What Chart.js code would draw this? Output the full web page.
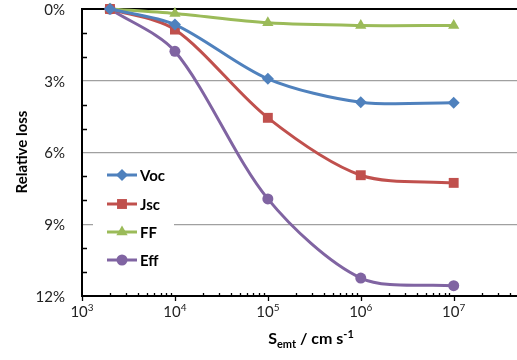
<!DOCTYPE html>
<html lang="en">
<head>
<meta charset="UTF-8">
<title>Relative loss vs S_emt</title>
<script src="https://cdn.jsdelivr.net/npm/chart.js@4.4.1/dist/chart.umd.min.js"></script>
<style>
    html, body { margin: 0; padding: 0; background: #fff; }
    #wrap { width: 517px; height: 360px; position: relative; }
</style>
</head>
<body>
<div id="wrap"><canvas id="chart"></canvas></div>
<script>
    // values (x in cm/s, y in % relative loss)
    var sEmt = [2e3, 1e4, 1e5, 1e6, 1e7];
    var voc = [0, 0.65, 2.92, 3.9, 3.92];
    var jsc = [0, 0.86, 4.55, 6.95, 7.27];
    var ff  = [0, 0.19, 0.58, 0.69, 0.69];
    var eff = [0, 1.77, 7.94, 11.25, 11.57];
    var seriesNames = ['Voc', 'Jsc', 'FF', 'Eff'];
    var xDecades = [1e3, 1e4, 1e5, 1e6, 1e7];
    var xExponents = ['3', '4', '5', '6', '7'];
    var yTicks = [0, 3, 6, 9, 12];

    var FONT = 'Lato, "Liberation Sans", sans-serif';
    var colors = ['#4f81bd', '#c0504d', '#9bbb59', '#8064a2'];
    var shapes = ['rectRot', 'rect', 'triangle', 'circle'];
    var radii = [6, 7, 6.5, 5.5];

    function toPoints(vals) {
        return vals.map(function (v, i) { return { x: sEmt[i], y: v }; });
    }

    var datasets = [voc, jsc, ff, eff].map(function (vals, i) {
        return {
            label: seriesNames[i],
            data: toPoints(vals),
            borderColor: colors[i],
            backgroundColor: colors[i],
            borderWidth: 3,
            pointStyle: shapes[i],
            pointRadius: radii[i],
            pointBorderWidth: 0,
            tension: 0.3,
            clip: false
        };
    });

    // axes lines, ticks, tick labels and titles
    var axisDeco = {
        id: 'axisDeco',
        beforeDatasetsDraw: function (chart) {
            var ctx = chart.ctx, a = chart.chartArea;
            var xs = chart.scales.x, ys = chart.scales.y;
            ctx.save();
            ctx.strokeStyle = '#000';
            ctx.lineWidth = 2;
            ctx.beginPath();
            ctx.moveTo(a.left, a.top); ctx.lineTo(a.right, a.top);
            ctx.moveTo(a.left, a.bottom); ctx.lineTo(a.right, a.bottom);
            ctx.moveTo(a.left, a.top - 1); ctx.lineTo(a.left, a.bottom + 1);
            ctx.stroke();

            // y minor ticks
            ctx.lineWidth = 1.3;
            ctx.beginPath();
            for (var v = 1; v < 12; v++) {
                if (v % 3 === 0) continue;
                var py = Math.round(ys.getPixelForValue(v)) + 0.5;
                ctx.moveTo(a.left, py); ctx.lineTo(a.left + 5, py);
            }
            // x ticks: majors go down, minors go up
            for (var d = 0; d < xDecades.length + 1; d++) {
                var base = 1e3 * Math.pow(10, d);
                for (var m = 1; m <= 9; m++) {
                    var val = base * m;
                    if (val > xs.max) break;
                    var px = Math.round(xs.getPixelForValue(val)) + 0.5;
                    if (m === 1) { ctx.moveTo(px, a.bottom); ctx.lineTo(px, a.bottom + 5); }
                    else { ctx.moveTo(px, a.bottom); ctx.lineTo(px, a.bottom - 3); }
                }
            }
            ctx.stroke();
            ctx.restore();
        },
        afterDraw: function (chart) {
            var ctx = chart.ctx, a = chart.chartArea;
            var xs = chart.scales.x, ys = chart.scales.y;
            ctx.save();
            ctx.fillStyle = '#222';

            // y tick labels
            ctx.font = '15px ' + FONT;
            ctx.textAlign = 'right';
            ctx.textBaseline = 'middle';
            yTicks.forEach(function (v) {
                ctx.fillText(v + '%', a.left - 17, ys.getPixelForValue(v) + 1);
            });

            // x tick labels 10^n
            ctx.textBaseline = 'alphabetic';
            xDecades.forEach(function (val, i) {
                var px = xs.getPixelForValue(val);
                ctx.font = '15px ' + FONT;
                var w1 = ctx.measureText('10').width;
                ctx.font = '10px ' + FONT;
                var w2 = ctx.measureText(xExponents[i]).width;
                var x0 = px - (w1 + w2) / 2;
                ctx.font = '15px ' + FONT;
                ctx.textAlign = 'left';
                ctx.fillText('10', x0, 317);
                ctx.font = '10px ' + FONT;
                ctx.fillText(xExponents[i], x0 + w1, 311);
            });

            // x title: S_emt / cm s^-1
            var parts = [
                { t: 'S', f: 'bold 16px ', dy: 0 },
                { t: 'emt', f: 'bold 11px ', dy: 4 },
                { t: ' / cm s', f: 'bold 16px ', dy: 0 },
                { t: '-1', f: 'bold 11px ', dy: -6 }
            ];
            var total = 0;
            parts.forEach(function (p) { ctx.font = p.f + FONT; p.w = ctx.measureText(p.t).width; total += p.w; });
            var tx = 311 - total / 2;
            ctx.fillStyle = '#000';
            parts.forEach(function (p) {
                ctx.font = p.f + FONT;
                ctx.fillText(p.t, tx, 344 + p.dy);
                tx += p.w;
            });

            // y title
            ctx.save();
            ctx.translate(27, 152);
            ctx.rotate(-Math.PI / 2);
            ctx.textAlign = 'center';
            ctx.font = 'bold 15px ' + FONT;
            ctx.fillText('Relative loss', 0, 0);
            ctx.restore();

            // legend inside the plot
            ctx.fillStyle = '#fff';
            ctx.fillRect(93, 160, 81, 115);
            var rows = [175, 204, 232, 260];
            chart.data.datasets.forEach(function (ds, i) {
                var y = rows[i];
                ctx.strokeStyle = ds.borderColor;
                ctx.lineWidth = 3;
                ctx.beginPath();
                ctx.moveTo(107, y); ctx.lineTo(137, y);
                ctx.stroke();
                ctx.fillStyle = ds.backgroundColor;
                Chart.helpers.drawPoint(ctx, {
                    pointStyle: ds.pointStyle, radius: ds.pointRadius, rotation: 0, borderWidth: 0
                }, 122, y);
                ctx.fillStyle = '#000';
                ctx.font = 'bold 15px ' + FONT;
                ctx.textAlign = 'left';
                ctx.textBaseline = 'middle';
                ctx.fillText(ds.label, 140, y + 1);
            });
            ctx.restore();
        }
    };

    new Chart(document.getElementById('chart'), {
        type: 'line',
        data: { datasets: datasets },
        plugins: [axisDeco],
        options: {
            responsive: true,
            maintainAspectRatio: false,
            animation: false,
            layout: { autoPadding: false, padding: { top: 9, right: 0, left: 0, bottom: 0 } },
            plugins: { legend: { display: false }, tooltip: { enabled: false } },
            scales: {
                x: {
                    type: 'logarithmic',
                    min: 1000,
                    max: 4.8e7,
                    grid: { display: false },
                    border: { display: false },
                    ticks: { display: false },
                    afterFit: function (s) { s.height = 64; }
                },
                y: {
                    reverse: true,
                    min: 0,
                    max: 12,
                    grid: {
                        drawTicks: false,
                        lineWidth: 1.3,
                        color: function (c) {
                            var v = c.tick && c.tick.value;
                            return (v === 0 || v === 12) ? 'rgba(0,0,0,0)' : '#a0a0a0';
                        }
                    },
                    border: { display: false },
                    ticks: { display: false, stepSize: 3 },
                    afterFit: function (s) { s.width = 82; }
                }
            }
        }
    });
</script>
</body>
</html>
